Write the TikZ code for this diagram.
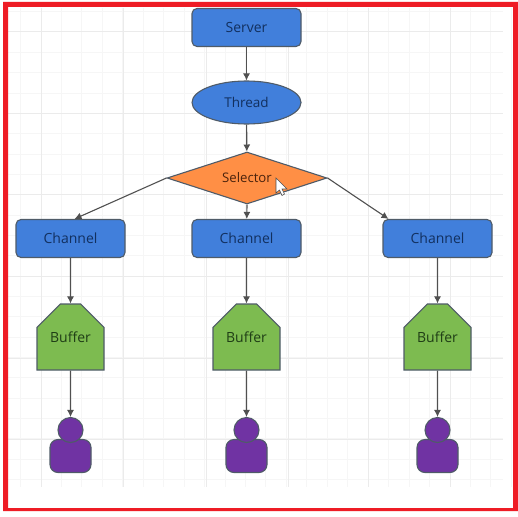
\documentclass[tikz,border=0pt]{standalone}
\usepackage{fontspec}
\setmainfont{Open Sans}
\usetikzlibrary{shapes.geometric,shapes.misc,arrows.meta,calc}
\definecolor{bluefill}{HTML}{417FDB}
\definecolor{bluetext}{HTML}{12305F}
\definecolor{greenfill}{HTML}{7DBB50}
\definecolor{greentext}{HTML}{1F3D16}
\definecolor{orangefill}{HTML}{FF8F45}
\definecolor{orangetext}{HTML}{4A220C}
\definecolor{purplefill}{HTML}{7033A3}
\definecolor{edgegray}{HTML}{4F5B68}
\definecolor{framered}{HTML}{EE1C25}
\definecolor{linegray}{HTML}{505050}
\tikzset{
  x=1pt,y=-1pt,
  base/.style={draw=edgegray,line width=1.1pt,inner sep=0pt,font=\fontsize{14}{16}\selectfont},
  boxnode/.style={base,rectangle,rounded corners=5pt,minimum width=109pt,minimum height=38pt,fill=bluefill,text=bluetext},
  ovalnode/.style={base,ellipse,minimum width=109pt,minimum height=43pt,fill=bluefill,text=bluetext,font=\fontsize{13.5}{16}\selectfont},
  decision/.style={base,diamond,minimum width=160pt,minimum height=52pt,aspect=3,fill=orangefill,text=orangetext,font=\fontsize{13.2}{16}\selectfont},
  bufnode/.style={base,chamfered rectangle,chamfered rectangle corners={north west,north east},chamfered rectangle xsep=16pt,chamfered rectangle ysep=18pt,minimum width=67pt,minimum height=66pt,fill=greenfill,text=greentext},
  headnode/.style={base,circle,minimum size=25pt,fill=purplefill},
  bodynode/.style={base,rectangle,rounded corners=8pt,minimum width=41pt,minimum height=33pt,fill=purplefill},
  link/.style={draw=linegray,line width=1.1pt,-{Latex[length=7pt,width=7pt]}},
  gridminor/.style={draw=black!3.5,line width=0.8pt},
  gridmajor/.style={draw=black!8,line width=1pt}
}
\begin{document}
\begin{tikzpicture}
\useasboundingbox (0,0) rectangle (518,516);
\fill[white] (0,0) rectangle (518,516);
% grid
\foreach \i in {0,...,24} {
  \pgfmathsetmacro{\gx}{20.45+\i*20.45}
  \draw[gridminor] (\gx,8) -- (\gx,487);
}
\foreach \i in {0,...,23} {
  \pgfmathsetmacro{\gy}{11.5+\i*20.35}
  \draw[gridminor] (8,\gy) -- (503,\gy);
}
\foreach \gx in {41,123.5,206,288,368,450} \draw[gridmajor] (\gx,8) -- (\gx,487);
\foreach \gy in {32,113,194.5,276,358,439} \draw[gridmajor] (8,\gy) -- (503,\gy);
% frame
\fill[framered,even odd rule] (3,2) rectangle (518,511) (8,7) rectangle (513,508);
% nodes
\node[boxnode] (server) at (246.5,27.5) {Server};
\node[ovalnode] (thread) at (246.5,102.5) {Thread};
\node[decision] (selector) at (247,178) {Selector};
\node[boxnode] (ch1) at (70.5,238.5) {Channel};
\node[boxnode] (ch2) at (246.5,238.5) {Channel};
\node[boxnode] (ch3) at (437.5,238.5) {Channel};
\node[bufnode] (b1) at (70.5,337) {Buffer};
\node[bufnode] (b2) at (246.5,337) {Buffer};
\node[bufnode] (b3) at (437.5,337) {Buffer};
\node[bodynode] (p1body) at (70.5,456) {};
\node[bodynode] (p2body) at (246.5,456) {};
\node[bodynode] (p3body) at (437.5,456) {};
\node[headnode] (p1) at (70.5,430) {};
\node[headnode] (p2) at (246.5,430) {};
\node[headnode] (p3) at (437.5,430) {};
\coordinate (ch1in) at ($(ch1.north)+(4,0)$);
\coordinate (ch3in) at ($(ch3.north)+(-49,0)$);
% connectors
\draw[link] (server) -- (thread);
\draw[link] (thread) -- (selector);
\draw[link] (selector.west) -- (ch1in);
\draw[link] (selector.south) -- (ch2);
\draw[link] (selector.east) -- (ch3in);
\draw[link] (ch1) -- (b1);
\draw[link] (ch2) -- (b2);
\draw[link] (ch3) -- (b3);
\draw[link] (b1) -- (p1);
\draw[link] (b2) -- (p2);
\draw[link] (b3) -- (p3);
% cursor
\draw[fill=white,draw=black!70,line width=0.6pt] (276,178) -- (276,193) -- (279.5,190) -- (282,195.5) -- (284.5,194) -- (282,189) -- (287,189) -- cycle;
\end{tikzpicture}
\end{document}
